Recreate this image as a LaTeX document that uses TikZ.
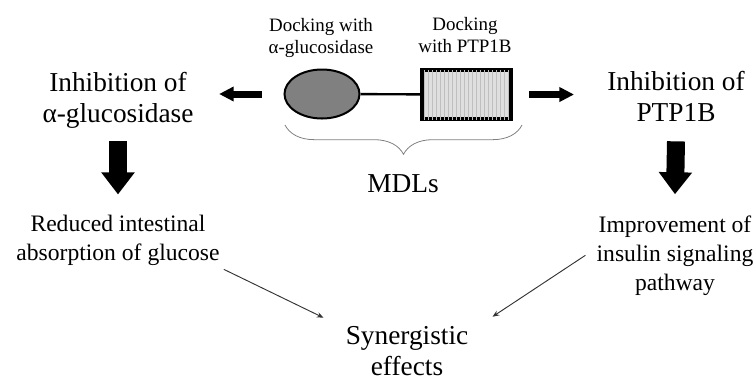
\documentclass[tikz,border=0pt]{standalone}
\usepackage{fontspec}
\setmainfont{Liberation Serif}
\usetikzlibrary{arrows.meta, shapes.geometric, decorations.pathreplacing, patterns}

\tikzset{
  bigtext/.style={font=\fontsize{20.5}{23.2}\selectfont, align=center, inner sep=0pt, anchor=base},
  midtext/.style={font=\fontsize{17.7}{21.7}\selectfont, align=center, inner sep=0pt, anchor=base},
  smalltext/.style={font=\fontsize{14.2}{16}\selectfont, align=center, inner sep=0pt, anchor=base},
  sidearrow/.style={line width=5.25pt, -{Triangle[length=11pt, width=10.5pt]}},
  downarrow/.style={line width=13.5pt, -{Triangle[length=16.5pt, width=24pt]}},
  thinarrow/.style={line width=0.7pt, black!80, -{Stealth[length=5pt, width=4pt]}},
}

\begin{document}
\begin{tikzpicture}[x=0.75pt, y=-0.75pt]
    \useasboundingbox (0,0) rectangle (756,380);
    % the two docking parts of the molecule
    \node[ellipse, draw, line width=1.5pt, fill=gray, minimum width=56.25pt, minimum height=36.75pt, inner sep=0pt] (alpha) at (322,94) {};
    \node[rectangle, draw, line width=3pt, fill=gray!25, postaction={pattern=vertical lines, pattern color=gray!50}, minimum width=66.75pt, minimum height=36.75pt, inner sep=0pt] (ptp) at (466.5,94.5) {};
    \draw[line width=1.8pt] (alpha) -- (ptp);
    % (base = last line of each label)
    \node[smalltext] (dockA) at (321,53) {Docking with\\α-glucosidase};
    \node[smalltext] (dockB) at (465,52) {Docking\\with PTP1B};
    % brace under the molecule
    \coordinate (braceL) at (285,125);
    \coordinate (braceR) at (522,125);
    \draw[gray, line width=0.6pt, decorate, decoration={brace, mirror, amplitude=22pt}] (braceL) -- (braceR);
    \node[bigtext] (mdl) at (403,192) {MDLs};
    % targets
    \node[bigtext] (inhA) at (118,122) {Inhibition of\\α-glucosidase};
    \node[bigtext] (inhB) at (676,121) {Inhibition of\\PTP1B};
    \draw[sidearrow] ([xshift=-16.5pt]alpha.west) -- ([xshift=19pt]inhA.east |- alpha.west);
    \draw[sidearrow] ([xshift=12pt]ptp.east) -- ([xshift=-24.75pt]inhB.west |- ptp.east);
    % effects
    \node[midtext] (redA) at (118,260) {Reduced intestinal\\absorption of glucose};
    \node[midtext] (impB) at (675,290) {Improvement of\\insulin signaling\\pathway};
    \draw[downarrow] ([yshift=-9.75pt]inhA.south) -- ([yshift=15pt]redA.north);
    \draw[downarrow] ([yshift=-15pt]inhB.south) -- ([yshift=15.75pt]impB.north);
    \node[bigtext] (syn) at (407,375) {Synergistic\\effects};
    \draw[thinarrow] ([shift={(4,4)}]redA.south east) -- ([shift={(-22,-8)}]syn.north west);
    \draw[thinarrow] ([shift={(-11,0)}]impB.west) -- ([shift={(24,-9)}]syn.north east);
\end{tikzpicture}
\end{document}
